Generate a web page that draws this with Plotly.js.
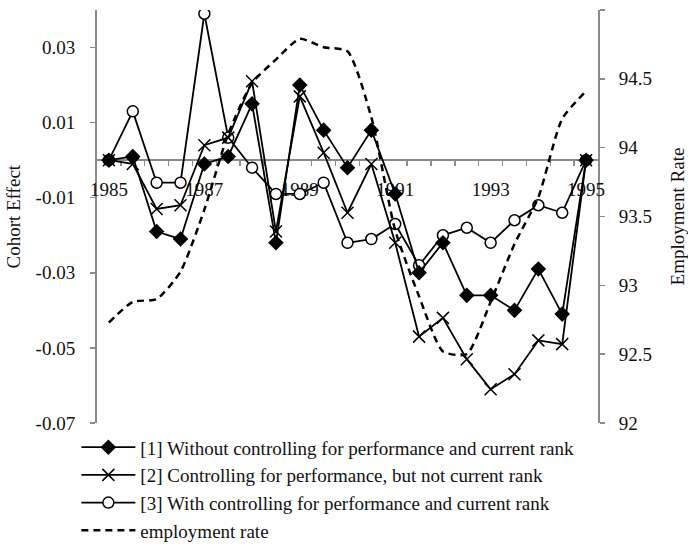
<!DOCTYPE html>
<html>
<head>
<meta charset="utf-8">
<script src="https://cdn.plot.ly/plotly-3.0.1.min.js"></script>
<style>
  html, body { margin: 0; padding: 0; background: #fff; }
  #chart { width: 688px; height: 557px; }
</style>
</head>
<body>
<div id="chart"></div>
<script>
// Half-year observation points
const years = [1985, 1985.5, 1986, 1986.5, 1987, 1987.5, 1988, 1988.5, 1989, 1989.5,
               1990, 1990.5, 1991, 1991.5, 1992, 1992.5, 1993, 1993.5, 1994, 1994.5, 1995];

// Cohort effect estimates under the three specifications
const withoutControls = [0, 0.001, -0.019, -0.021, -0.001, 0.001, 0.015, -0.022, 0.020, 0.008,
                         -0.002, 0.008, -0.009, -0.030, -0.022, -0.036, -0.036, -0.040, -0.029, -0.041, 0];
const performanceOnly = [0, -0.001, -0.013, -0.012, 0.004, 0.006, 0.021, -0.019, 0.017, 0.002,
                         -0.014, -0.001, -0.022, -0.047, -0.042, -0.053, -0.061, -0.057, -0.048, -0.049, 0];
const fullControls    = [0, 0.013, -0.006, -0.006, 0.039, 0.006, -0.002, -0.009, -0.009, -0.006,
                         -0.022, -0.021, -0.017, -0.028, -0.020, -0.018, -0.022, -0.016, -0.012, -0.014, 0];

// Employment rate (right axis)
const employmentRate  = [92.73, 92.88, 92.90, 93.10, 93.55, 94.10, 94.47, 94.64, 94.79, 94.73,
                         94.70, 94.22, 93.40, 92.92, 92.52, 92.50, 92.88, 93.30, 93.64, 94.21, 94.41];

const seriesNames = [
  '[1] Without controlling for performance and current rank',
  '[2] Controlling for performance, but not current rank',
  '[3] With controlling for performance and current rank',
  'employment rate'
];

// Axis labels
const yearTickVals  = [1985, 1987, 1989, 1991, 1993, 1995];
const yearTickText  = ['1985', '1987', '1989', '1991', '1993', '1995'];
const cohortTickVals = [-0.07, -0.05, -0.03, -0.01, 0.01, 0.03];
const cohortTickText = ['-0.07', '-0.05', '-0.03', '-0.01', '0.01', '0.03'];
const rateTickVals  = [92, 92.5, 93, 93.5, 94, 94.5, 95];
const rateTickText  = ['92', '92.5', '93', '93.5', '94', '94.5', '95'];

// tick marks sit between neighbouring observations
const boundaries = years.slice(1).map((y, i) => (y + years[i]) / 2);

const ink = '#000';
const axisGray = '#8a8a8a';
const cohortRange = [-0.07, 0.04];

const margin = { l: 97, r: 90, t: 10, b: 134, autoexpand: false };
const plotWidth = 688 - margin.l - margin.r;

// drawn from [3] up to [1] so the solid diamonds end on top; legendrank keeps the listing order
const traces = [
  {
    x: years, y: fullControls, name: seriesNames[2], legendrank: 3, type: 'scatter', mode: 'lines+markers',
    line: { color: ink, width: 1.8 },
    marker: { symbol: 'circle', size: 11, color: '#fff', line: { color: ink, width: 1.5 } }
  },
  {
    x: years, y: performanceOnly, name: seriesNames[1], legendrank: 2, type: 'scatter', mode: 'lines+markers',
    line: { color: ink, width: 1.8 },
    marker: { symbol: 'x-thin-open', size: 12, color: ink, line: { color: ink, width: 1.5 } }
  },
  {
    x: years, y: withoutControls, name: seriesNames[0], legendrank: 1, type: 'scatter', mode: 'lines+markers',
    line: { color: ink, width: 1.8 },
    marker: { symbol: 'diamond', size: 12, color: ink }
  },
  {
    x: years, y: employmentRate, name: seriesNames[3], legendrank: 4, type: 'scatter', mode: 'lines', yaxis: 'y2',
    line: { color: ink, width: 2.5, dash: '7px,5px', shape: 'spline', smoothing: 0.6 }
  }
];

const layout = {
  width: 688, height: 557,
  margin: margin,
  paper_bgcolor: '#fff', plot_bgcolor: '#fff',
  font: { family: '"Liberation Serif", "Times New Roman", serif', size: 19, color: '#111' },
  showlegend: true,
  legend: {
    xref: 'container', yref: 'container',
    x: 0.111, y: 0.231, xanchor: 'left', yanchor: 'top',
    itemwidth: 54, tracegroupgap: 0, traceorder: 'normal',
    bgcolor: 'rgba(0,0,0,0)', font: { size: 19, color: '#111' }
  },
  xaxis: {
    range: [1984.75, 1995.25],
    anchor: 'free',
    position: (0 - cohortRange[0]) / (cohortRange[1] - cohortRange[0]),
    showline: true, linecolor: axisGray, linewidth: 2,
    showgrid: false, zeroline: false,
    tickmode: 'array', tickvals: yearTickVals, ticktext: yearTickText,
    ticks: '', ticklabelstandoff: 12,
    minor: { tickmode: 'array', tickvals: boundaries, ticks: 'outside', ticklen: 5,
             tickwidth: 1.5, tickcolor: axisGray, showgrid: false },
    layer: 'below traces'
  },
  yaxis: {
    range: cohortRange,
    tickmode: 'array', tickvals: cohortTickVals, ticktext: cohortTickText,
    showline: true, linecolor: axisGray, linewidth: 2,
    ticks: 'outside', ticklen: 5, tickwidth: 1.5, tickcolor: axisGray,
    ticklabelstandoff: 11,
    showgrid: false, zeroline: false,
    layer: 'below traces'
  },
  yaxis2: {
    overlaying: 'y', side: 'right',
    range: [92, 95],
    tickmode: 'array', tickvals: rateTickVals, ticktext: rateTickText,
    showline: true, linecolor: axisGray, linewidth: 2,
    ticks: 'outside', ticklen: 5, tickwidth: 1.5, tickcolor: axisGray,
    ticklabelstandoff: 10,
    showgrid: false, zeroline: false,
    title: { text: 'Employment Rate', standoff: 22, font: { size: 19 } },
    layer: 'below traces'
  },
  annotations: [
    {
      // left axis title, set in the outer margin beside the tick labels
      text: 'Cohort Effect', textangle: -90,
      xref: 'paper', yref: 'paper', x: -(margin.l - 13) / plotWidth, y: 0.5,
      xanchor: 'center', yanchor: 'middle', showarrow: false,
      font: { size: 19, color: '#111' }
    }
  ]
};

Plotly.newPlot('chart', traces, layout, { displayModeBar: false, staticPlot: true });
</script>
</body>
</html>
